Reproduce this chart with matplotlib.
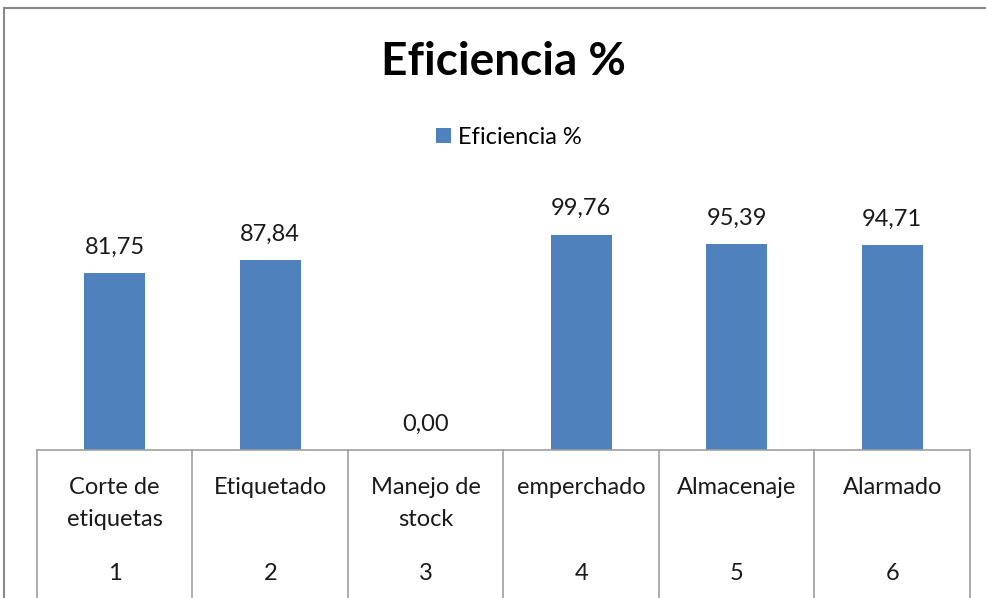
import matplotlib.pyplot as plt
from matplotlib.patches import Rectangle

# datos
categorias = ["Corte de\netiquetas", "Etiquetado", "Manejo de\nstock",
              "emperchado", "Almacenaje", "Alarmado"]
numeros = ["1", "2", "3", "4", "5", "6"]
eficiencia = [81.75, 87.84, 0.00, 99.76, 95.39, 94.71]

plt.rcParams["font.family"] = ["Lato", "DejaVu Sans"]

AZUL = "#4F81BD"
GRIS = "#a0a0a0"
TXT = "#1a1a1a"

fig = plt.figure(figsize=(9.87, 5.98), dpi=100)

# marco exterior del gráfico
fig.patches.append(Rectangle((4 / 987, -0.1), 1.2, 1 - 8 / 598 + 0.1,
                             transform=fig.transFigure, fill=False,
                             edgecolor="#888888", linewidth=1.5))

ax = fig.add_axes([37 / 987, 1 - 450 / 598, 933 / 987, 270 / 598])
x = range(len(categorias))
ax.bar(x, eficiencia, width=0.39, color=AZUL, label="Eficiencia %", zorder=2)

ax.set_xlim(-0.5, len(categorias) - 0.5)
ax.set_ylim(0, 125)
ax.set_xticks([])
ax.set_yticks([])
for s in ["top", "right", "left"]:
    ax.spines[s].set_visible(False)
ax.spines["bottom"].set_color(GRIS)
ax.spines["bottom"].set_linewidth(1.2)

# etiquetas de valor
for i, v in enumerate(eficiencia):
    ax.annotate(f"{v:.2f}".replace(".", ","), (i, v), xytext=(0, 11),
                textcoords="offset points", ha="center", va="bottom",
                fontsize=17, color=TXT)

# tabla de categorías bajo el eje
tr = ax.get_xaxis_transform()
for k in range(len(categorias) + 1):
    ax.plot([k - 0.5, k - 0.5], [0, -0.6], color=GRIS, linewidth=1.2,
            transform=tr, clip_on=False)
for i, (c, n) in enumerate(zip(categorias, numeros)):
    ax.text(i, -27 / 270, c, transform=tr, ha="center", va="top",
            fontsize=17, color=TXT, linespacing=1.62)
    ax.text(i, -123 / 270, n, transform=tr, ha="center", va="center",
            fontsize=17, color=TXT)

fig.text(503 / 987, 1 - 62 / 598, "Eficiencia %", ha="center", va="center",
         fontsize=33, fontweight="bold", color="black")

fig.legend(loc="center", bbox_to_anchor=(509 / 987, 1 - 137 / 598),
           frameon=False, fontsize=17, handlelength=0.6, handleheight=0.6,
           handletextpad=0.3, borderaxespad=0)

fig.savefig("out.png", dpi=100, facecolor="white")
